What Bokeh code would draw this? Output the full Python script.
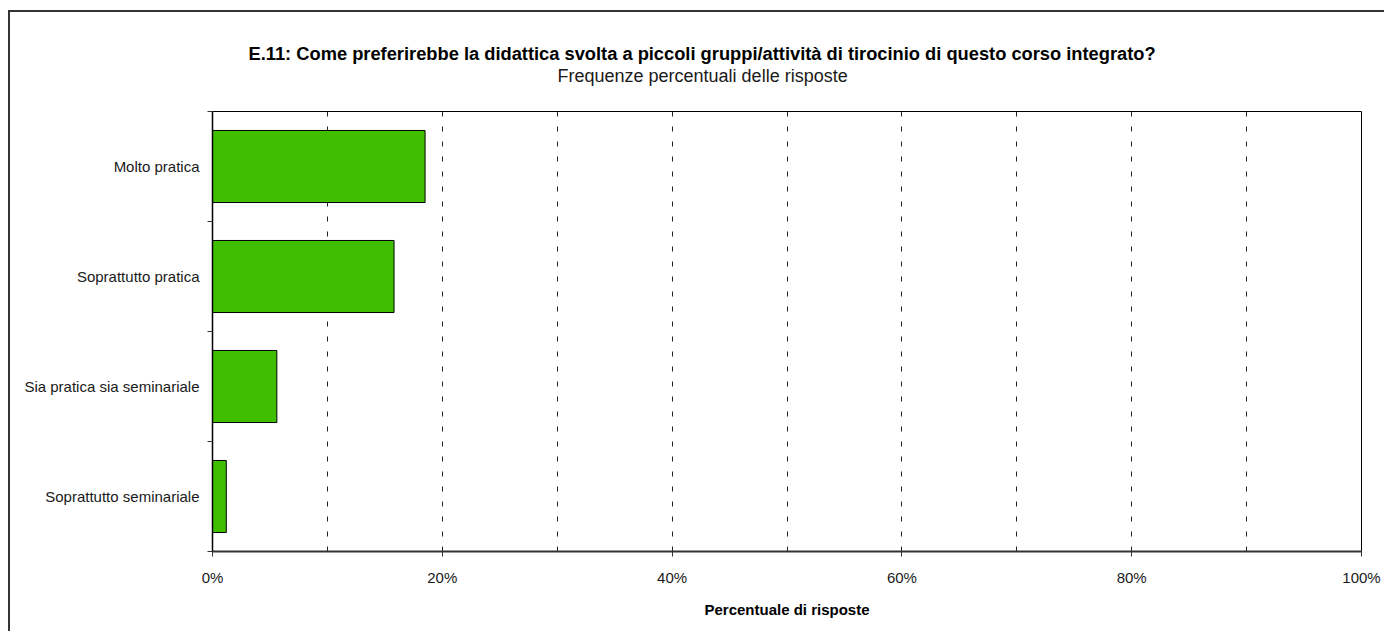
from bokeh.plotting import figure
from bokeh.models import FixedTicker, Title, ColumnDataSource, Range1d
from bokeh.embed import file_html
from bokeh.resources import INLINE

categories = ["Molto pratica", "Soprattutto pratica", "Sia pratica sia seminariale", "Soprattutto seminariale"]
percentages = [18.5, 15.8, 5.6, 1.2]
x_ticks = [0, 20, 40, 60, 80, 100]
x_tick_labels = ["0%", "20%", "40%", "60%", "80%", "100%"]
grid_ticks = [10, 20, 30, 40, 50, 60, 70, 80, 90]
title_text = "E.11: Come preferirebbe la didattica svolta a piccoli gruppi/attività di tirocinio di questo corso integrato?"
subtitle_text = "Frequenze percentuali delle risposte"
x_label = "Percentuale di risposte"

FONT = "Liberation Sans"
BAR_COLOR = "#40BF00"

n = len(categories)
ypos = [n - i - 0.5 for i in range(n)]
source = ColumnDataSource(dict(y=ypos, value=percentages, cat=categories))

p = figure(width=1376, height=621, x_range=Range1d(0, 100), y_range=Range1d(0, n),
           output_backend="svg", toolbar_location=None,
           min_border_left=202, min_border_top=99, min_border_right=25, min_border_bottom=82)
p.styles = {"border-top": "2px solid #333333", "border-left": "2px solid #333333",
            "margin-left": "8px", "margin-top": "10px"}
p.background_fill_color = "white"
p.border_fill_color = "white"
p.outline_line_color = "black"
p.outline_line_width = 1

p.hbar(y="y", right="value", left=0, height=0.655, source=source,
       fill_color=BAR_COLOR, line_color="black", line_width=1)

# x axis
xa = p.xaxis[0]
xa.ticker = FixedTicker(ticks=x_ticks, minor_ticks=[])
xa.major_label_overrides = {t: l for t, l in zip(x_ticks, x_tick_labels)}
xa.major_tick_out = 5
xa.major_tick_in = 0
xa.minor_tick_out = 0
xa.minor_tick_in = 0
xa.axis_line_color = "#333333"
xa.axis_line_width = 2
xa.major_tick_line_color = "#333333"
xa.major_label_text_font = FONT
xa.major_label_text_font_size = "15px"
xa.major_label_text_color = "#1a1a1a"
xa.major_label_standoff = 12
xa.axis_label = x_label
xa.axis_label_text_font = FONT
xa.axis_label_text_font_style = "bold"
xa.axis_label_text_font_size = "15px"
xa.axis_label_text_color = "black"
xa.axis_label_standoff = 12

# y axis
ya = p.yaxis[0]
ya.ticker = FixedTicker(ticks=ypos, minor_ticks=list(range(n + 1)))
ya.major_label_overrides = {y: c for y, c in zip(ypos, categories)}
ya.major_tick_out = 0
ya.major_tick_in = 0
ya.minor_tick_out = 5
ya.minor_tick_in = 0
ya.minor_tick_line_color = "#333333"
ya.axis_line_color = "black"
ya.axis_line_width = 1.5
ya.major_label_text_font = FONT
ya.major_label_text_font_size = "15px"
ya.major_label_text_color = "#1a1a1a"
ya.major_label_standoff = 8

p.xgrid.ticker = FixedTicker(ticks=grid_ticks)
p.xgrid.grid_line_color = "#222222"
p.xgrid.grid_line_dash = "5 10"
p.xgrid.grid_line_width = 1
p.ygrid.visible = False

# titles stacked above the frame (first added = closest to the frame)
p.add_layout(Title(text=" ", text_font=FONT, text_font_size="10px", standoff=13), "above")
p.add_layout(Title(text=subtitle_text, text_font=FONT, text_font_size="18px",
                   text_font_style="normal", text_color="#1a1a1a",
                   align="left", offset=345, standoff=0, vertical_align="bottom"), "above")
p.add_layout(Title(text=title_text, text_font=FONT, text_font_size="18.3px",
                   text_font_style="bold", text_color="black",
                   align="left", offset=36, standoff=0, vertical_align="bottom"), "above")

open("out.html", "w").write(file_html(p, INLINE))
